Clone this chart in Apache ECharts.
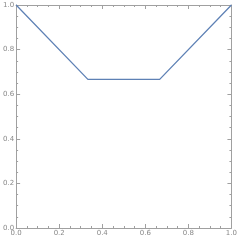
<!DOCTYPE html>
<html><head><meta charset="utf-8">
<script src="https://cdn.jsdelivr.net/npm/echarts@6/dist/echarts.min.js"></script>
<style>html,body{margin:0;padding:0;background:#fff}#c{width:240px;height:240px}</style>
</head><body><div id="c"></div>
<script>
const xValues = [0, 1/3, 2/3, 1];
const yValues = [1, 2/3, 2/3, 1];
const tickValues = [0, 0.2, 0.4, 0.6, 0.8, 1.0];

const chart = echarts.init(document.getElementById('c'), null, {renderer: 'canvas'});
const axisColor = '#a0a0a0';
const labelColor = '#888888';
function fmt(v){ return v.toFixed(1); }
function axisBase(pos, showLabel){
  return {
    type: 'value', min: 0, max: 1, interval: 0.2, position: pos,
    axisLine: {show: true, onZero: false, lineStyle: {color: axisColor, width: 1}},
    axisTick: {show: true, inside: true, length: 4, lineStyle: {color: axisColor}},
    minorTick: {show: true, splitNumber: 4, length: 2, lineStyle: {color: axisColor}},
    splitLine: {show: false},
    axisLabel: {show: showLabel, formatter: fmt, color: labelColor, fontSize: 7, fontFamily: 'DejaVu Sans', margin: 2}
  };
}
chart.setOption({
  animation: false,
  grid: {left: 12, right: 7, top: 5, bottom: 12, containLabel: false},
  xAxis: [axisBase('bottom', true), axisBase('top', false)],
  yAxis: [axisBase('left', true), axisBase('right', false)],
  series: [{
    type: 'line',
    data: xValues.map((x, i) => [x, yValues[i]]),
    showSymbol: false,
    lineStyle: {color: '#5E81B5', width: 1.3},
    clip: false
  }]
});
</script></body></html>
